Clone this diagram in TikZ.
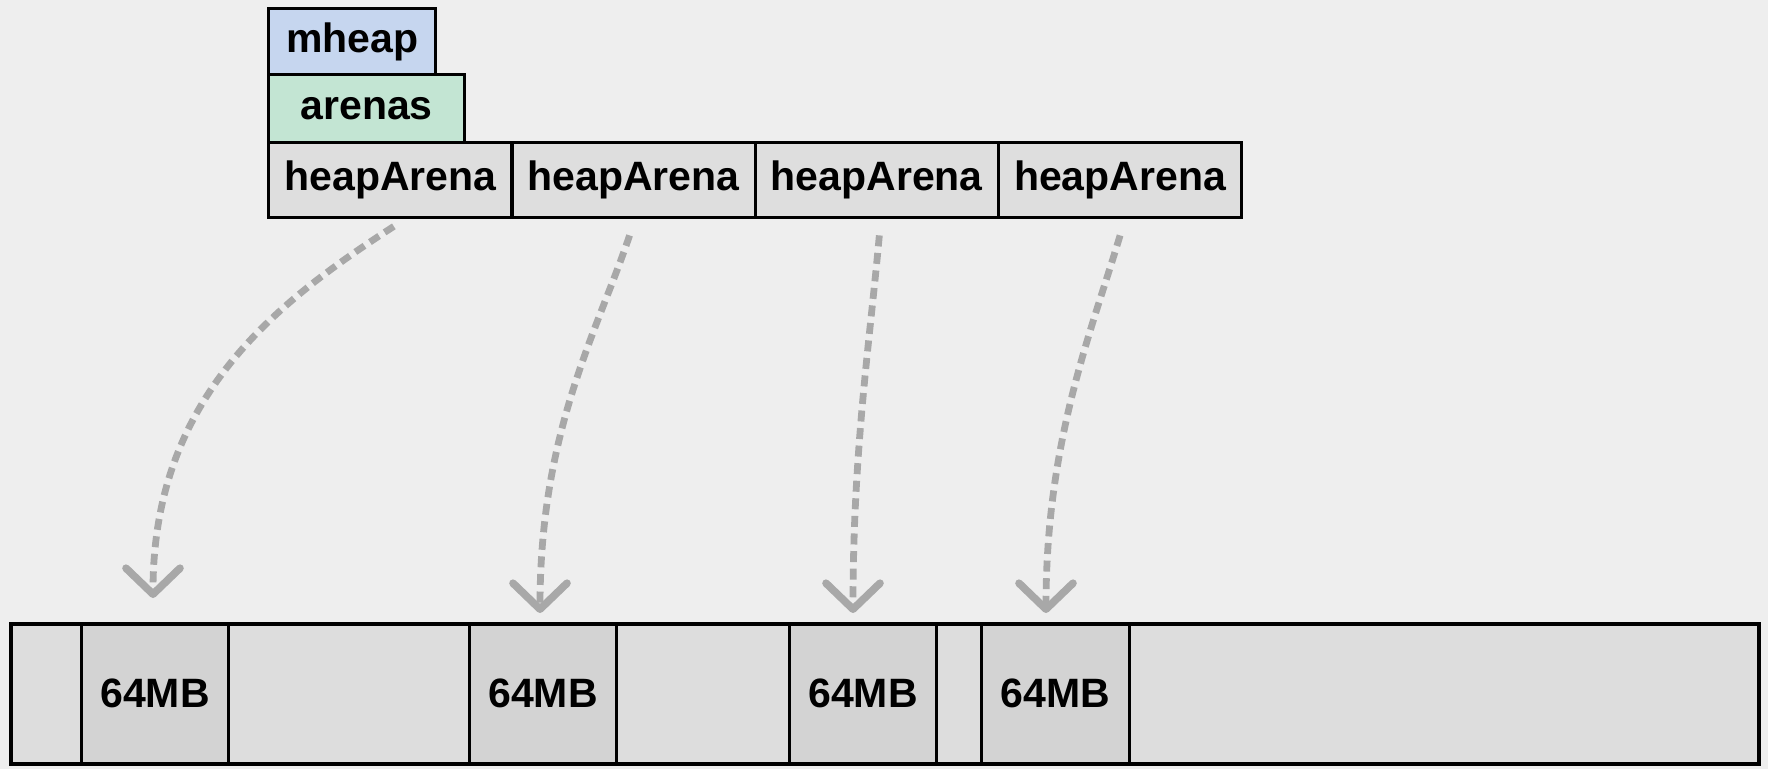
\documentclass[tikz,border=0pt]{standalone}
\usepackage{fontspec}
\setmainfont{Liberation Sans}
\usetikzlibrary{arrows.meta}
\definecolor{bgc}{RGB}{238,238,238}
\definecolor{mheapc}{RGB}{198,214,239}
\definecolor{arenac}{RGB}{195,229,211}
\definecolor{cellc}{RGB}{222,222,222}
\definecolor{segc}{RGB}{221,221,221}
\definecolor{mbc}{RGB}{211,211,211}
\definecolor{arrc}{RGB}{168,168,168}
\tikzset{
  box/.style={draw=black, line width=1.7pt, inner sep=0pt, anchor=north west,
    font=\fontsize{20.5}{24}\selectfont\bfseries},
  seg/.style={box, fill=segc, minimum height=70pt, line width=1.5pt},
  mb/.style={box, fill=mbc, minimum height=70pt, minimum width=73.5pt, line width=1.5pt},
  harena/.style={box, fill=cellc, minimum height=37.5pt, minimum width=121.625pt},
  link/.style={draw=arrc, line width=3.4pt, dash pattern=on 5.5pt off 3.3pt,
    -{Straight Barb[length=13pt, width=27pt, line width=3.8pt, round]}}
}
\begin{document}
\begin{tikzpicture}[x=0.5pt, y=-0.5pt]
\fill[bgc] (0,0) rectangle (1768,769);
\useasboundingbox (0,0) rectangle (1768,769);
% top structures
\node[box, fill=mheapc, minimum width=83.5pt, minimum height=33pt] (mheap) at (267,7) {mheap};
\node[box, fill=arenac, minimum width=98pt, minimum height=34pt] (arenas) at (267,73) {arenas};
\node[harena] (h1) at (267,141) {heapArena};
\node[harena] (h2) at (510.25,141) {heapArena};
\node[harena] (h3) at (753.5,141) {heapArena};
\node[harena] (h4) at (996.75,141) {heapArena};
% bottom bar
\node[seg, minimum width=35.5pt] (s0) at (9,622) {};
\node[mb] (m1) at (80,622) {64MB};
\node[seg, minimum width=120.5pt] (s1) at (227,622) {};
\node[mb] (m2) at (468,622) {64MB};
\node[seg, minimum width=86.5pt] (s2) at (615,622) {};
\node[mb] (m3) at (788,622) {64MB};
\node[seg, minimum width=22.5pt] (s3) at (935,622) {};
\node[mb, minimum width=74pt] (m4) at (980,622) {64MB};
\node[seg, minimum width=314.5pt] (s4) at (1128,622) {};
\node[box, line width=2pt, minimum width=874pt, minimum height=70pt] (bar) at (9,622) {};
% arrow targets
\coordinate (t1) at (153,598);
\coordinate (t2) at (540,613);
\coordinate (t3) at (853,613);
\coordinate (t4) at (1046,613);
% connectors
\draw[link] ([xshift=1.75pt,yshift=-3.5pt]h1.south) .. controls (272,305) and (153,400) .. (t1);
\draw[link] ([xshift=-2pt,yshift=-8pt]h2.south) .. controls (598,330) and (540,430) .. (t2);
\draw[link] ([xshift=1.25pt,yshift=-8pt]h3.south) .. controls (870,340) and (853,450) .. (t3);
\draw[link] ([xshift=0pt,yshift=-8pt]h4.south) .. controls (1092,330) and (1046,440) .. (t4);
\end{tikzpicture}
\end{document}
